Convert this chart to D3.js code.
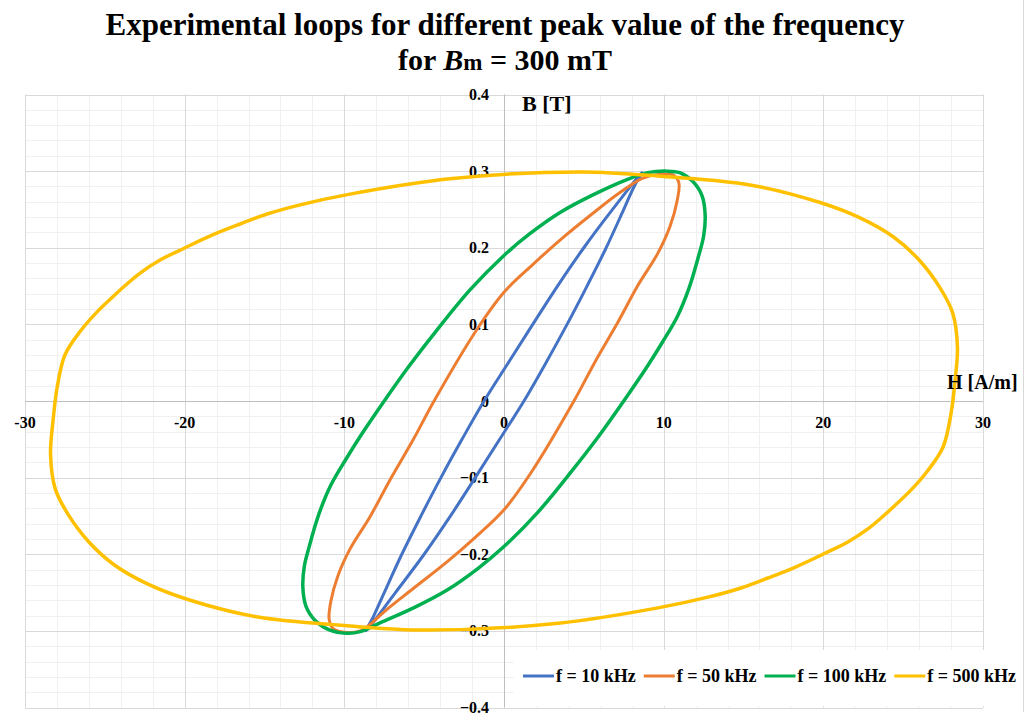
<!DOCTYPE html>
<meta charset="utf-8">
<style>
    body { margin: 0; background: #fff; }
    text { font-family: "Liberation Serif", "Times New Roman", serif; font-weight: bold; fill: #000; }
</style>
<div id="chart"></div>
<script src="https://d3js.org/d3.v7.min.js"></script>
<script>

    // loop data: [H (A/m), B (T)], traced around each loop
    var loop10 = [
        [8.64, 0.298], [6.8, 0.25], [5.0, 0.2], [3.35, 0.15], [1.8, 0.1], [0.27, 0.05],
        [-1.25, 0.0], [-2.63, -0.05], [-3.95, -0.1], [-5.2, -0.15], [-6.4, -0.2],
        [-7.5, -0.25], [-8.15, -0.28], [-8.64, -0.3],
        [-6.8, -0.25], [-5.0, -0.2], [-3.35, -0.15], [-1.8, -0.1], [-0.27, -0.05],
        [1.25, 0.0], [2.63, 0.05], [3.95, 0.1], [5.2, 0.15], [6.4, 0.2], [7.5, 0.25], [8.15, 0.28]
    ];
    var loop50 = [
        [9.77, 0.296], [8.7, 0.291], [7.26, 0.272], [5.57, 0.245], [3.51, 0.21], [1.8, 0.178],
        [0.0, 0.142], [-1.71, 0.093], [-4.38, 0.0], [-5.7, -0.051], [-7.14, -0.103],
        [-8.39, -0.151], [-9.64, -0.193], [-10.4, -0.228], [-10.85, -0.262], [-10.95, -0.285],
        [-10.7, -0.297], [-9.83, -0.302], [-9.0, -0.3], [-8.58, -0.295], [-7.33, -0.272],
        [-5.7, -0.245], [-3.57, -0.21], [-1.8, -0.178], [0.0, -0.142], [1.71, -0.093],
        [4.38, 0.0], [5.7, 0.051], [7.14, 0.103], [8.39, 0.151], [9.64, 0.193],
        [10.4, 0.228], [10.85, 0.262], [10.95, 0.285], [10.6, 0.295]
    ];
    var loop100 = [
        [10.2, 0.3], [9.0, 0.298], [7.7, 0.289], [5.57, 0.269], [3.51, 0.246], [1.6, 0.218],
        [0.0, 0.19], [-2.13, 0.145], [-4.3, 0.09], [-6.0, 0.044], [-7.5, 0.0], [-9.0, -0.046],
        [-9.9, -0.076], [-10.85, -0.11], [-11.6, -0.148], [-12.2, -0.19], [-12.5, -0.215],
        [-12.6, -0.242], [-12.4, -0.268], [-11.8, -0.287], [-10.9, -0.299], [-9.9, -0.303],
        [-9.0, -0.301], [-7.7, -0.289], [-5.57, -0.269], [-3.51, -0.246], [-1.6, -0.218],
        [0.0, -0.19], [2.13, -0.145], [4.3, -0.09], [6.0, -0.044], [7.5, 0.0], [9.0, 0.046],
        [9.9, 0.076], [10.85, 0.11], [11.6, 0.148], [12.2, 0.19], [12.5, 0.215],
        [12.6, 0.242], [12.4, 0.268], [11.8, 0.287], [11.0, 0.298]
    ];
    var loop500 = [
        [-28.4, -0.07], [-28.25, -0.027], [-28.0, 0.016], [-27.5, 0.06], [-26.5, 0.092],
        [-25.5, 0.116], [-24.5, 0.136], [-23.6, 0.153], [-22.79, 0.167],
        [-21.54, 0.184], [-19.97, 0.2], [-18.22, 0.217], [-16.53, 0.231], [-14.84, 0.244],
        [-12.77, 0.256], [-9.64, 0.27], [-3.4, 0.29], [4.9, 0.299], [10.0, 0.293],
        [15.4, 0.282], [19.8, 0.259], [22.3, 0.239], [24.4, 0.214], [26.0, 0.184],
        [27.3, 0.148], [28.1, 0.115], [28.4, 0.07], [28.25, 0.027], [28.0, -0.016],
        [27.5, -0.06], [26.5, -0.092], [25.5, -0.116], [24.5, -0.136],
        [23.6, -0.153], [22.79, -0.167], [21.54, -0.184], [19.97, -0.2], [18.22, -0.217],
        [16.53, -0.231], [14.84, -0.244], [12.77, -0.256], [9.64, -0.27], [3.4, -0.29],
        [-4.9, -0.299], [-10.0, -0.293], [-15.4, -0.282], [-19.8, -0.259], [-22.3, -0.239],
        [-24.4, -0.214], [-26.0, -0.184], [-27.3, -0.148], [-28.1, -0.115]
    ];

    var seriesNames = ["f = 10 kHz", "f = 50 kHz", "f = 100 kHz", "f = 500 kHz"];
    var xTicks = [-30, -20, -10, 0, 10, 20, 30];
    var yTicks = [-0.4, -0.3, -0.2, -0.1, 0, 0.1, 0.2, 0.3, 0.4];

    var loops = [loop10, loop50, loop100, loop500];
    var colors = ["#4472C4", "#ED7D31", "#00B050", "#FFC000"];
    var widths = [3, 3, 3.5, 3.5];

    var W = 1031, H = 715;
    var plot = { left: 25, right: 983, top: 94.5, bottom: 707.5 };

    var svg = d3.select("#chart").append("svg")
        .attr("width", W)
        .attr("height", H);

    var x = d3.scaleLinear().domain([-30, 30]).range([plot.left, plot.right]);
    var y = d3.scaleLinear().domain([-0.4, 0.4]).range([plot.bottom, plot.top]);

    // grid: minor then major
    var grid = svg.append("g");
    grid.selectAll(".vminor").data(d3.range(-30, 31, 2))
        .enter().append("line")
        .attr("x1", function (d) { return Math.round(x(d)) + 0.5; })
        .attr("x2", function (d) { return Math.round(x(d)) + 0.5; })
        .attr("y1", plot.top).attr("y2", plot.bottom)
        .attr("stroke", "#f0f0f0");
    grid.selectAll(".hminor").data(d3.range(-40, 41, 2).map(function (v) { return v / 100; }))
        .enter().append("line")
        .attr("x1", plot.left).attr("x2", plot.right)
        .attr("y1", function (d) { return Math.round(y(d)) + 0.5; })
        .attr("y2", function (d) { return Math.round(y(d)) + 0.5; })
        .attr("stroke", "#f0f0f0");
    grid.selectAll(".vmajor").data(xTicks)
        .enter().append("line")
        .attr("x1", function (d) { return Math.round(x(d)) + 0.5; })
        .attr("x2", function (d) { return Math.round(x(d)) + 0.5; })
        .attr("y1", plot.top).attr("y2", plot.bottom)
        .attr("stroke", "#d9d9d9");
    grid.selectAll(".hmajor").data(yTicks)
        .enter().append("line")
        .attr("x1", plot.left).attr("x2", plot.right)
        .attr("y1", function (d) { return Math.round(y(d)) + 0.5; })
        .attr("y2", function (d) { return Math.round(y(d)) + 0.5; })
        .attr("stroke", "#d9d9d9");

    // axes crossing at zero
    svg.append("line")
        .attr("x1", plot.left).attr("x2", plot.right)
        .attr("y1", Math.round(y(0)) + 0.5).attr("y2", Math.round(y(0)) + 0.5)
        .attr("stroke", "#bfbfbf");
    svg.append("line")
        .attr("x1", Math.round(x(0)) + 0.5).attr("x2", Math.round(x(0)) + 0.5)
        .attr("y1", plot.top).attr("y2", plot.bottom)
        .attr("stroke", "#bfbfbf");

    // tick labels
    svg.selectAll(".xlab").data(xTicks)
        .enter().append("text")
        .attr("x", function (d) { return x(d); })
        .attr("y", y(0) + 27)
        .attr("text-anchor", "middle")
        .style("font-size", "16px")
        .text(function (d) { return d; });
    svg.selectAll(".ylab").data(yTicks)
        .enter().append("text")
        .attr("x", x(0) - 15)
        .attr("y", function (d) { return y(d) + 5.5; })
        .attr("text-anchor", "end")
        .style("font-size", "16px")
        .text(function (d) { return d3.format(".1~f")(d); });

    // loops
    var line = d3.line()
        .x(function (d) { return x(d[0]); })
        .y(function (d) { return y(d[1]); })
        .curve(d3.curveCatmullRomClosed.alpha(0.5));

    svg.selectAll(".loop").data(loops)
        .enter().append("path")
        .attr("d", line)
        .attr("fill", "none")
        .attr("stroke", function (d, i) { return colors[i]; })
        .attr("stroke-width", function (d, i) { return widths[i]; })
        .attr("stroke-linejoin", "round");

    // axis titles
    svg.append("text")
        .attr("x", 522).attr("y", 111)
        .style("font-size", "22px")
        .text("B [T]");
    svg.append("text")
        .attr("x", 947).attr("y", 389)
        .style("font-size", "20px")
        .text("H [A/m]");

    // title
    svg.append("text")
        .attr("x", 505).attr("y", 35)
        .attr("text-anchor", "middle")
        .style("font-size", "31px")
        .text("Experimental loops for different peak value of the frequency");
    var t2 = svg.append("text")
        .attr("x", 505).attr("y", 70)
        .attr("text-anchor", "middle")
        .style("font-size", "30px");
    t2.append("tspan").text("for ");
    t2.append("tspan").style("font-style", "italic").text("B");
    t2.append("tspan").style("font-size", "23px").text("m");
    t2.append("tspan").text(" = 300 mT");

    // legend
    var legend = svg.append("g");
    legend.append("rect")
        .attr("x", 514).attr("y", 650)
        .attr("width", 509).attr("height", 56)
        .attr("fill", "#fff");
    var lx = 523;
    seriesNames.forEach(function (name, i) {
        legend.append("line")
            .attr("x1", lx).attr("x2", lx + 31)
            .attr("y1", 676).attr("y2", 676)
            .attr("stroke", colors[i])
            .attr("stroke-width", 3);
        var t = legend.append("text")
            .attr("x", lx + 33).attr("y", 682)
            .style("font-size", "18px")
            .text(name);
        lx += 33 + t.node().getComputedTextLength() + 8;
    });

    // outer chart border
    svg.append("line")
        .attr("x1", 1023.5).attr("x2", 1023.5)
        .attr("y1", 0).attr("y2", 712)
        .attr("stroke", "#d9d9d9");

</script>
